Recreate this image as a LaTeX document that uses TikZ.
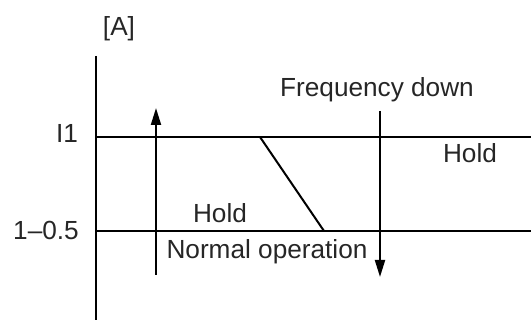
\documentclass[tikz,border=0pt]{standalone}
\usepackage{fontspec}
\setmainfont{Liberation Sans}
\usetikzlibrary{arrows.meta}
\begin{document}
\begin{tikzpicture}[x=1pt,y=-1pt,
  line/.style={line width=2pt,line cap=butt},
  arr/.style={line width=2pt,-{Triangle[length=17pt,width=10pt]}},
  lbl/.style={inner sep=0pt,anchor=base,text=black!85,font=\fontsize{26.2}{30}\selectfont}]
\useasboundingbox (0,0) rectangle (531,320);
% axis
\coordinate (axtop) at (96,56);
\coordinate (axbot) at (96,320);
\draw[line] (axtop) -- (axbot);
% levels
\coordinate (i1l) at (96,137);
\coordinate (i1r) at (531,137);
\coordinate (i2l) at (96,231);
\coordinate (i2r) at (531,231);
\draw[line] (i1l) -- (i1r);
\draw[line] (i2l) -- (i2r);
% diagonal
\coordinate (dtop) at (260,137);
\coordinate (dbot) at (324,231);
\draw[line] (dtop) -- (dbot);
% arrows
\coordinate (upb) at (156,275);
\coordinate (upt) at (156,108);
\draw[arr] (upb) -- (upt);
\coordinate (dnt) at (380,111);
\coordinate (dnb) at (380,277);
\draw[arr] (dnt) -- (dnb);
% labels
\node[lbl] (unit) at (119,36) {[A]};
\node[lbl] (li1) at (67,143) {I1};
\node[lbl] (li2) at (46,240) {1–0.5};
\node[lbl] (hold1) at (220,223) {Hold};
\node[lbl] (normal) at (267,259) {Normal operation};
\node[lbl] (freq) at (377,97) {Frequency down};
\node[lbl] (hold2) at (470,163) {Hold};
\end{tikzpicture}
\end{document}
